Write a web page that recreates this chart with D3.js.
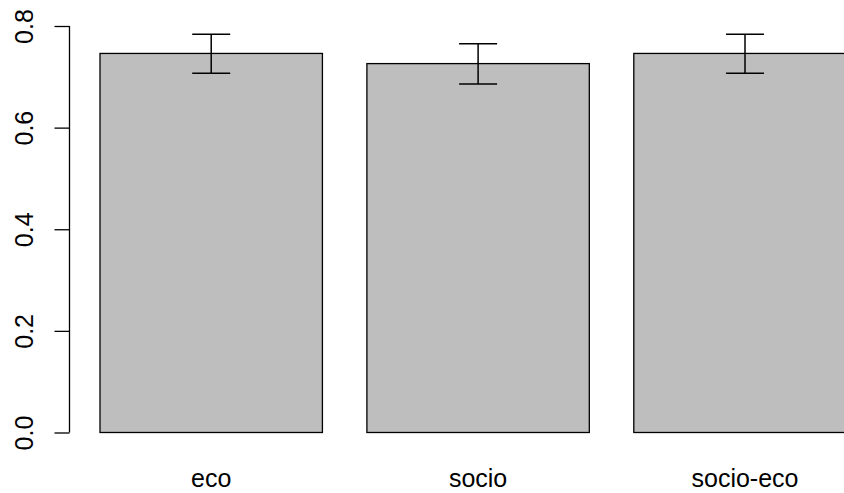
<!DOCTYPE html>
<html>
<head>
<meta charset="utf-8">
<script src="https://cdn.jsdelivr.net/npm/d3@7"></script>
<style>
  html, body { margin: 0; padding: 0; background: #ffffff; }
  svg { display: block; }
  text { font-family: "Liberation Sans", Arial, sans-serif; fill: #000; }
</style>
</head>
<body>
<svg id="chart" width="844" height="493"></svg>
<script>
const categories = ["eco", "socio", "socio-eco"];
const means = [0.746, 0.726, 0.746];
const lower = [0.707, 0.686, 0.707];
const upper = [0.784, 0.765, 0.784];
const yTicks = [0, 0.2, 0.4, 0.6, 0.8];

const svg = d3.select("#chart");

const y = d3.scaleLinear().domain([0, 0.8]).range([432.5, 26]);
const step = 266.9;
const x0 = 100 - step * (0.1 / 1.2);
const x = d3.scaleBand()
  .domain(categories)
  .range([x0, x0 + 3 * step])
  .paddingInner(0.2 / 1.2)
  .paddingOuter(0.1 / 1.2);

const data = categories.map((c, i) => ({ c, m: means[i], lo: lower[i], hi: upper[i] }));

// bars
svg.append("g").selectAll("rect").data(data).join("rect")
  .attr("x", d => x(d.c))
  .attr("y", d => y(d.m))
  .attr("width", x.bandwidth())
  .attr("height", d => y(0) - y(d.m))
  .attr("fill", "#bebebe")
  .attr("stroke", "#000")
  .attr("stroke-width", 1.3);

// error bars
const eb = svg.append("g").attr("stroke", "#000").attr("stroke-width", 1.5);
const cap = 19;
data.forEach(d => {
  const cx = x(d.c) + x.bandwidth() / 2;
  eb.append("line").attr("x1", cx).attr("x2", cx).attr("y1", y(d.lo)).attr("y2", y(d.hi));
  eb.append("line").attr("x1", cx - cap).attr("x2", cx + cap).attr("y1", y(d.hi)).attr("y2", y(d.hi));
  eb.append("line").attr("x1", cx - cap).attr("x2", cx + cap).attr("y1", y(d.lo)).attr("y2", y(d.lo));
});

// y axis
const axisX = 69.5;
const yAxis = d3.axisLeft(y).tickValues(yTicks).tickSize(15).tickPadding(0)
  .tickFormat(d3.format(".1f"));
const ga = svg.append("g").attr("transform", `translate(${axisX},0)`).call(yAxis);
ga.select(".domain").attr("d", `M0,${y(0.8)}V${y(0)}`).attr("stroke", "#000").attr("stroke-width", 1.3);
ga.selectAll(".tick line").attr("stroke", "#000").attr("stroke-width", 1.3);
ga.selectAll(".tick text")
  .attr("x", null).attr("dy", null)
  .attr("transform", `translate(${33 - axisX},0) rotate(-90)`)
  .attr("text-anchor", "middle")
  .attr("font-size", 25)
  .attr("font-family", '"Liberation Sans", Arial, sans-serif')
  .attr("fill", "#000");

// category labels
svg.append("g").selectAll("text").data(data).join("text")
  .attr("x", d => x(d.c) + x.bandwidth() / 2)
  .attr("y", 487)
  .attr("text-anchor", "middle")
  .attr("font-size", 25)
  .text(d => d.c);
</script>
</body>
</html>
